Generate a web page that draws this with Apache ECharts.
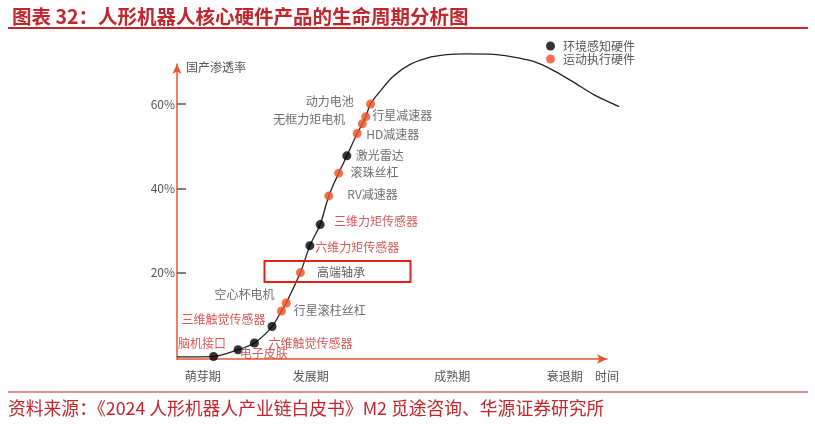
<!DOCTYPE html>
<html>
<head>
<meta charset="utf-8">
<script src="https://cdn.jsdelivr.net/npm/echarts@6/dist/echarts.min.js"></script>
<style>
html,body{margin:0;padding:0;background:#fff;}
#main{width:815px;height:424px;}
</style>
</head>
<body>
<div id="main"></div>
<script>
// 生命周期曲线 (横轴为时间, 纵轴为国产渗透率%)
var curveX = [0, 4, 8.5, 14.2, 18.0, 22.1, 24.3, 25.4, 28.7, 30.9, 33.3, 35.3, 37.6, 39.5, 41.9, 43.1, 43.9, 45.0,
	47.2, 50.3, 54.2, 58.1, 62.7, 67.4, 73.6, 77.4, 82.9, 87.5, 92.2, 96.8, 102.8];
var curveY = [0, 0, 0.1, 1.7, 3.3, 7.2, 10.9, 12.8, 20.0, 26.4, 31.4, 38.2, 43.6, 47.7, 53.0, 55.3, 57.0, 60.0,
	63.0, 66.6, 69.4, 70.9, 71.7, 71.9, 71.8, 71.3, 70.1, 68.0, 65.2, 62.3, 59.4];

// 环境感知硬件
var senseNames = ['脑机接口', '电子皮肤', '六维触觉传感器', '三维触觉传感器', '六维力矩传感器', '三维力矩传感器', '激光雷达'];
var senseX = [8.5, 14.2, 18.0, 22.1, 30.9, 33.3, 39.5];
var senseY = [0.1, 1.7, 3.3, 7.2, 26.4, 31.4, 47.7];

// 运动执行硬件
var motionNames = ['行星滚柱丝杠', '空心杯电机', '高端轴承', 'RV减速器', '滚珠丝杠', 'HD减速器', '无框力矩电机', '行星减速器', '动力电池'];
var motionX = [24.3, 25.4, 28.7, 35.3, 37.6, 41.9, 43.1, 43.9, 45.0];
var motionY = [10.9, 12.8, 20.0, 38.2, 43.6, 53.0, 55.3, 57.0, 60.0];

// 坐标轴刻度
var yTicks = [20, 40, 60];
var stageNames = ['萌芽期', '发展期', '成熟期', '衰退期', '时间'];
var stagePos = [6, 31.1, 64, 90.2, 100];

var RED_TXT = '#c9302c';
var GRAY_TXT = '#4a4a4a';
var AXIS_COLOR = '#e8562f';
var FONT = '"Noto Sans CJK SC", sans-serif';

// 标签位置(相对于点的偏移)及颜色
var labelLayout = {
	'动力电池': [-40.7, -2.3, GRAY_TXT],
	'行星减速器': [36.5, -1, GRAY_TXT],
	'无框力矩电机': [-53.1, -4.7, GRAY_TXT],
	'HD减速器': [35.7, 1.3, GRAY_TXT],
	'激光雷达': [32.8, 0, GRAY_TXT],
	'滚珠丝杠': [35.8, -0.3, GRAY_TXT],
	'RV减速器': [43.7, -1.7, GRAY_TXT],
	'三维力矩传感器': [55.7, -2.7, RED_TXT],
	'六维力矩传感器': [47.4, 2.3, RED_TXT],
	'高端轴承': [40.6, 0, '#333'],
	'空心杯电机': [-41.6, -8.3, GRAY_TXT],
	'行星滚柱丝杠': [48.2, -1, GRAY_TXT],
	'三维触觉传感器': [-48.6, -7.4, RED_TXT],
	'脑机接口': [-11.5, -13.4, RED_TXT],
	'六维触觉传感器': [56.2, 0.3, RED_TXT],
	'电子皮肤': [25.7, 3.3, RED_TXT]
};

function buildPoints(names, xs, ys){
	var arr = [];
	for(var i = 0; i < names.length; i++){
		var lay = labelLayout[names[i]];
		arr.push({
			name: names[i],
			value: [xs[i], ys[i]],
			label: {offset: [lay[0], lay[1]], color: lay[2]}
		});
	}
	return arr;
}

var curveData = [];
for(var i = 0; i < curveX.length; i++){
	curveData.push([curveX[i], curveY[i]]);
}

var pointLabel = {
	show: true,
	position: 'inside',
	formatter: '{b}',
	fontSize: 12,
	fontFamily: FONT
};

// 坐标: 0-100 对应 177px-607px, 每单位 4.3px
var PX = 4.3;
var myChart = echarts.init(document.getElementById('main'));
var option = {
	animation: false,
	backgroundColor: '#fff',
	title: {
		text: '图表 32：人形机器人核心硬件产品的生命周期分析图',
		left: 7,
		top: 2,
		textStyle: {color: '#c0272d', fontSize: 19.5, fontWeight: 'bold', fontFamily: FONT}
	},
	legend: {
		data: ['环境感知硬件', '运动执行硬件'],
		orient: 'vertical',
		left: 541,
		top: 35,
		icon: 'circle',
		itemWidth: 9,
		itemHeight: 9,
		itemGap: 1,
		textStyle: {color: '#555', fontSize: 12, fontFamily: FONT, padding: [0, 0, 0, 3]}
	},
	grid: [
		{left: 177, right: 208, top: 64, bottom: 65},
		// 数据层, 横向多留一段让曲线画到轴箭头之外
		{left: 177, right: 815 - 177 - PX * 105, top: 64, bottom: 65}
	],
	xAxis: [{
		type: 'value',
		gridIndex: 0,
		min: 0,
		max: 100,
		splitLine: {show: false},
		axisTick: {show: false},
		axisLine: {
			onZero: false,
			lineStyle: {color: AXIS_COLOR, width: 1.5},
			symbol: ['none', 'arrow'],
			symbolSize: [7, 10]
		},
		axisLabel: {
			customValues: stagePos,
			margin: 11,
			color: '#555',
			fontSize: 12,
			fontFamily: FONT,
			formatter: function(v){
				var idx = stagePos.indexOf(v);
				return idx >= 0 ? stageNames[idx] : '';
			}
		}
	}, {
		type: 'value',
		gridIndex: 1,
		min: 0,
		max: 105,
		show: false
	}],
	yAxis: [{
		type: 'value',
		gridIndex: 0,
		min: -0.5,
		max: 69.5,
		name: '国产渗透率',
		nameLocation: 'end',
		nameGap: -9,
		nameTextStyle: {align: 'left', padding: [0, 0, 0, 9], color: '#555', fontSize: 12, fontFamily: FONT},
		splitLine: {show: false},
		axisLine: {
			lineStyle: {color: AXIS_COLOR, width: 1.5},
			symbol: ['none', 'arrow'],
			symbolSize: [7, 10]
		},
		axisTick: {
			customValues: yTicks,
			inside: true,
			length: 9,
			lineStyle: {color: '#555', width: 1.5}
		},
		axisLabel: {
			customValues: yTicks,
			margin: 2,
			color: '#555',
			fontSize: 12,
			fontFamily: FONT,
			formatter: '{value}%'
		}
	}, {
		type: 'value',
		gridIndex: 1,
		min: -0.5,
		max: 69.5,
		show: false
	}],
	graphic: [
		{type: 'line', shape: {x1: 8, y1: 28, x2: 808, y2: 28}, style: {stroke: '#c0272d', lineWidth: 2}},
		{type: 'line', shape: {x1: 8, y1: 392, x2: 808, y2: 392}, style: {stroke: '#c0272d', lineWidth: 1}},
		{
			type: 'text', left: 8, top: 399,
			style: {text: '资料来源：《2024 人形机器人产业链白皮书》M2 觅途咨询、华源证券研究所', fill: '#c0272d', fontSize: 17.8, fontFamily: FONT}
		},
		// 高端轴承 红框
		{type: 'rect', shape: {x: 264.5, y: 261, width: 146, height: 21}, style: {fill: 'none', stroke: '#e0221c', lineWidth: 2}, z: 10}
	],
	series: [
		{
			name: '生命周期',
			type: 'line',
			xAxisIndex: 1,
			yAxisIndex: 1,
			data: curveData,
			smooth: 0.3,
			showSymbol: false,
			clip: false,
			lineStyle: {color: '#222', width: 1.3},
			z: 2
		},
		{
			name: '环境感知硬件',
			type: 'scatter',
			xAxisIndex: 1,
			yAxisIndex: 1,
			data: buildPoints(senseNames, senseX, senseY),
			symbolSize: 9,
			itemStyle: {color: '#000'},
			label: pointLabel,
			z: 5
		},
		{
			name: '运动执行硬件',
			type: 'scatter',
			xAxisIndex: 1,
			yAxisIndex: 1,
			data: buildPoints(motionNames, motionX, motionY),
			symbolSize: 9,
			itemStyle: {color: '#f04e23'},
			label: pointLabel,
			z: 5
		}
	]
};
myChart.setOption(option);
</script>
</body>
</html>
